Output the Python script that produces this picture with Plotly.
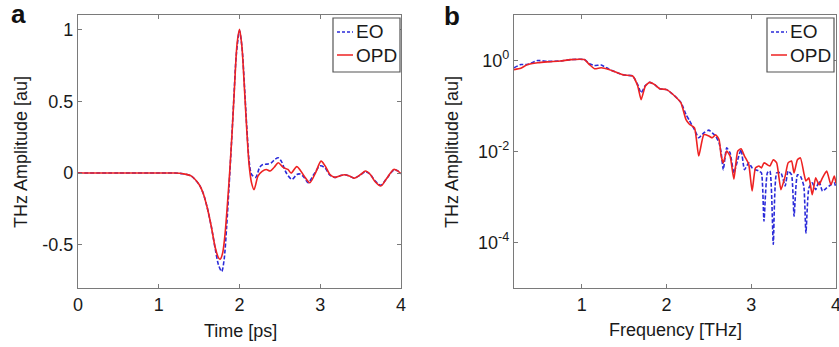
import plotly.graph_objects as go

# ---------------- Panel a: time domain ----------------
t_eo = [0, 0.5, 1.0, 1.2, 1.3, 1.4, 1.5, 1.55, 1.6, 1.65, 1.7, 1.74, 1.78, 1.81, 1.84, 1.87,
        1.9, 1.93, 1.96, 2.0, 2.03, 2.06, 2.09, 2.12, 2.15, 2.2, 2.25, 2.29, 2.34, 2.39, 2.44,
        2.48, 2.52, 2.58, 2.65, 2.71, 2.75, 2.8, 2.85, 2.92, 3.0, 3.06, 3.12, 3.18, 3.24, 3.3,
        3.36, 3.42, 3.5, 3.56, 3.62, 3.68, 3.75, 3.82, 3.91, 3.96, 4.0]
eo_amp = [0, 0, 0, 0, -0.005, -0.02, -0.08, -0.14, -0.24, -0.37, -0.53, -0.64, -0.685, -0.60,
          -0.38, -0.10, 0.20, 0.52, 0.82, 0.99, 0.88, 0.62, 0.32, 0.08, -0.01, -0.03, 0.04,
          0.06, 0.062, 0.07, 0.095, 0.106, 0.08, 0.0, -0.044, -0.01, -0.007, -0.03, -0.067,
          -0.01, 0.05, 0.035, -0.015, -0.03, -0.02, -0.012, -0.02, -0.035, -0.012, 0.01,
          -0.01, -0.055, -0.085, -0.04, 0.02, 0.015, -0.005]

t_opd = [0, 0.5, 1.0, 1.2, 1.3, 1.4, 1.5, 1.55, 1.6, 1.65, 1.7, 1.74, 1.76, 1.79, 1.82, 1.85,
         1.88, 1.91, 1.94, 1.97, 2.0, 2.03, 2.06, 2.09, 2.12, 2.15, 2.18, 2.23, 2.28, 2.33,
         2.38, 2.43, 2.48, 2.54, 2.6, 2.64, 2.71, 2.8, 2.87, 2.94, 3.01, 3.06, 3.12, 3.18,
         3.24, 3.3, 3.36, 3.42, 3.5, 3.56, 3.62, 3.68, 3.75, 3.82, 3.91, 3.96, 4.0]
opd_amp = [0, 0, 0, 0, -0.005, -0.02, -0.08, -0.14, -0.24, -0.37, -0.52, -0.59, -0.60, -0.56,
           -0.43, -0.22, 0.02, 0.30, 0.62, 0.90, 1.0, 0.88, 0.60, 0.30, 0.05, -0.07, -0.115,
           -0.02, 0.012, 0.025, 0.014, 0.04, 0.072, 0.04, 0.025, 0.0, 0.045, -0.02, -0.067,
           0.0, 0.083, 0.05, -0.01, -0.03, -0.02, -0.012, -0.02, -0.035, -0.01, 0.014, -0.01,
           -0.06, -0.09, -0.04, 0.025, 0.015, -0.005]

# ---------------- Panel b: spectrum ----------------
freq = [0.20, 0.28, 0.36, 0.48, 0.59, 0.75, 0.87, 1.03, 1.09, 1.15, 1.23, 1.32, 1.42, 1.50,
        1.60, 1.66, 1.70, 1.75, 1.80, 1.86, 1.92, 2.00, 2.09, 2.17, 2.23, 2.27, 2.33, 2.38,
        2.44, 2.50, 2.54, 2.58, 2.62, 2.645, 2.67, 2.71, 2.75, 2.795, 2.84, 2.88, 2.92, 2.97,
        3.01, 3.05, 3.09, 3.12, 3.15, 3.19, 3.22, 3.26, 3.30, 3.35, 3.40, 3.435, 3.475, 3.505,
        3.545, 3.58, 3.62, 3.645, 3.68, 3.72, 3.76, 3.80, 3.84, 3.89, 3.94, 3.98, 4.00]

eo_spec = [0.692, 0.813, 0.813, 1.000, 0.955, 0.977, 1.047, 1.047, 0.851, 0.776, 0.794, 0.646,
           0.537, 0.479, 0.457, 0.295, 0.195, 0.282, 0.331, 0.295, 0.240, 0.229, 0.170, 0.120,
           0.0646, 0.0479, 0.0302, 0.0200, 0.0257, 0.0295, 0.0257, 0.0219, 0.0155, 0.00933,
           0.00398, 0.0120, 0.00933, 0.00339, 0.00661, 0.0110, 0.00398, 0.00562, 0.00437,
           0.00398, 0.00372, 0.00339, 0.000295, 0.00339, 0.00372, 0.0000912, 0.00339, 0.00339,
           0.00174, 0.00372, 0.00309, 0.000380, 0.00309, 0.00288, 0.00174, 0.000162, 0.00158,
           0.00204, 0.00145, 0.00224, 0.00135, 0.00158, 0.00186, 0.00204, 0.00158]

opd_spec = [0.631, 0.676, 0.813, 0.891, 0.933, 0.977, 1.047, 1.047, 0.813, 0.661, 0.692, 0.631,
            0.537, 0.479, 0.457, 0.275, 0.138, 0.275, 0.331, 0.295, 0.240, 0.229, 0.170, 0.117,
            0.0501, 0.0398, 0.0331, 0.00794, 0.0234, 0.0219, 0.0200, 0.0234, 0.0182, 0.00794,
            0.00562, 0.0102, 0.00794, 0.00245, 0.0102, 0.0115, 0.00794, 0.00525, 0.00135,
            0.00437, 0.00479, 0.00437, 0.00562, 0.00513, 0.00479, 0.00661, 0.00562, 0.00145,
            0.00288, 0.00562, 0.00617, 0.00339, 0.00661, 0.00724, 0.00339, 0.00224, 0.00263,
            0.00112, 0.00263, 0.00186, 0.00263, 0.00372, 0.00186, 0.00288, 0.00200]

x_ticks_a = [0, 1, 2, 3, 4]
y_ticks_a = [-0.5, 0, 0.5, 1]
y_tick_text_a = ["-0.5", "0", "0.5", "1"]
x_ticks_b = [1, 2, 3, 4]
y_ticks_b = [1e-4, 1e-2, 1]
y_tick_text_b = ["10<sup>-4</sup>", "10<sup>-2</sup>", "10<sup>0</sup>"]
series_names = ["EO", "OPD"]

BLUE = "#2b2bd9"
RED = "#ee2222"
FONT = "Liberation Sans, Arial, sans-serif"
TXT = "#1a1a1a"
W, H = 839, 347

fig = go.Figure()
fig.add_trace(go.Scatter(x=t_eo, y=eo_amp, name=series_names[0], mode="lines",
                         line=dict(color=BLUE, width=1.6, dash="4px,2px", shape="spline", smoothing=0.8),
                         xaxis="x", yaxis="y"))
fig.add_trace(go.Scatter(x=t_opd, y=opd_amp, name=series_names[1], mode="lines",
                         line=dict(color=RED, width=1.6, shape="spline", smoothing=0.8),
                         xaxis="x", yaxis="y"))
fig.add_trace(go.Scatter(x=freq, y=eo_spec, name=series_names[0], mode="lines",
                         line=dict(color=BLUE, width=1.6, dash="4px,2px", shape="spline", smoothing=0.5),
                         xaxis="x2", yaxis="y2"))
fig.add_trace(go.Scatter(x=freq, y=opd_spec, name=series_names[1], mode="lines",
                         line=dict(color=RED, width=1.6, shape="spline", smoothing=0.5),
                         xaxis="x2", yaxis="y2"))

axis_common = dict(showline=True, mirror="ticks", linecolor="#7a7a7a", linewidth=1.3,
                   ticks="inside", ticklen=4, tickcolor="#7a7a7a", showgrid=False,
                   zeroline=False, automargin=False, ticklabeloverflow="allow",
                   tickfont=dict(family=FONT, size=18, color=TXT))

ytop = 1 - 15 / H
ybot = 1 - 288 / H

fig.update_layout(
    width=W, height=H,
    margin=dict(l=0, r=0, t=0, b=0),
    paper_bgcolor="white", plot_bgcolor="white",
    font=dict(family=FONT, color=TXT),
    showlegend=False,
    xaxis=dict(domain=[78 / W, 401 / W], range=[0, 4], tickvals=x_ticks_a,
               anchor="y", **axis_common),
    yaxis=dict(domain=[ybot, ytop], range=[-0.8, 1.1], tickvals=y_ticks_a,
               ticktext=y_tick_text_a, anchor="x", **axis_common),
    xaxis2=dict(domain=[514 / W, 836 / W], range=[0.2, 4], tickvals=x_ticks_b,
                anchor="y2", **axis_common),
    yaxis2=dict(domain=[ybot, ytop], type="log", range=[-5, 1], tickvals=y_ticks_b,
                ticktext=y_tick_text_b, anchor="x2", **axis_common),
)

annots = [
    dict(text="<b>a</b>", x=18 / W, y=1 - 14 / H, font=dict(size=26, family=FONT, color="#111111")),
    dict(text="<b>b</b>", x=452 / W, y=1 - 16 / H, font=dict(size=26, family=FONT, color="#111111")),
    dict(text="Time [ps]", x=240 / W, y=1 - 331 / H, font=dict(size=18, family=FONT, color=TXT)),
    dict(text="Frequency [THz]", x=675 / W, y=1 - 330 / H, font=dict(size=18, family=FONT, color=TXT)),
    dict(text="THz Amplitude [au]", x=21 / W, y=1 - 152 / H, textangle=-90,
         font=dict(size=18, family=FONT, color=TXT)),
    dict(text="THz Amplitude [au]", x=452 / W, y=1 - 152 / H, textangle=-90,
         font=dict(size=18, family=FONT, color=TXT)),
]

# Legend boxes (drawn as frame decoration, one per panel)
shapes = []
for (bx0, bx1) in [(333, 400), (767, 834)]:
    shapes.append(dict(type="rect", xref="paper", yref="paper",
                       x0=bx0 / W, x1=bx1 / W, y0=1 - 72 / H, y1=1 - 18 / H,
                       line=dict(color="#555555", width=1.2), fillcolor="white", layer="above"))
    for i, (nm, col, dash) in enumerate(zip(series_names, [BLUE, RED], ["3px,2px", "solid"])):
        yy = 1 - (32 + 23 * i) / H
        shapes.append(dict(type="line", xref="paper", yref="paper",
                           x0=(bx0 + 4) / W, x1=(bx0 + 20) / W, y0=yy, y1=yy,
                           line=dict(color=col, width=1.5, dash=dash), layer="above"))
        annots.append(dict(text=nm, x=(bx0 + 21) / W, y=yy, xanchor="left",
                           font=dict(size=19, family=FONT, color=TXT)))

for a in annots:
    a.setdefault("xanchor", "center")
    a.update(xref="paper", yref="paper", showarrow=False, yanchor="middle")
fig.update_layout(annotations=annots, shapes=shapes)

fig.write_html("out.html", config={"displayModeBar": False},
               post_script="document.body.style.margin='0';document.body.style.overflow='hidden';")
